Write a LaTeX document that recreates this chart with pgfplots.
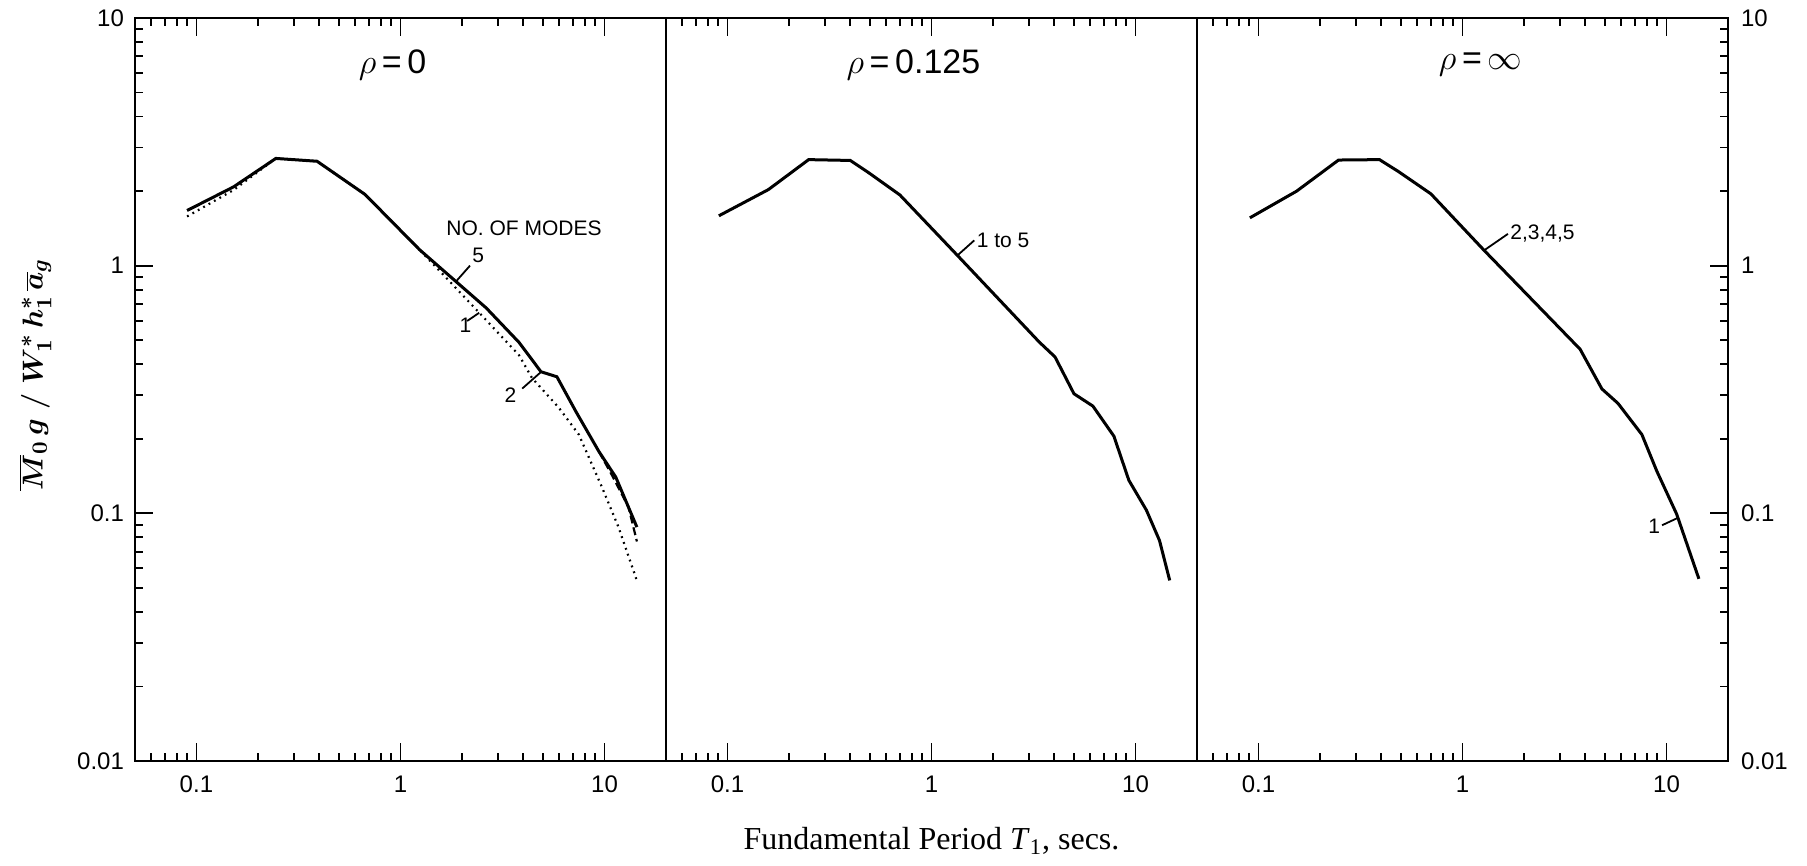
\documentclass[border=0pt]{standalone}
\usepackage{fontspec}
\setmainfont{Liberation Serif}
\setsansfont{Liberation Sans}
\usepackage{pgfplots}
\pgfplotsset{compat=1.18}
\tikzset{
  mycurve/.style={black, line width=1.5pt},
  mylab/.style={font=\sffamily\fontsize{10.5}{12}\selectfont, inner sep=0.8pt},
  myleader/.style={black, line width=0.9pt},
}

\begin{document}
\begin{tikzpicture}

% ---------------- rho = 0 ----------------
\begin{axis}[xmode=log, ymode=log,
  scale only axis, width=265.5pt, height=371.5pt,
  xmin=0.05, xmax=20, ymin=0.01, ymax=10,
  xtick={0.1,1,10}, xticklabels={0.1,1,10},
  minor xtick={0.05,0.06,0.07,0.08,0.09,0.2,0.3,0.4,0.5,0.6,0.7,0.8,0.9,2,3,4,5,6,7,8,9,20},
  ytick={0.01,0.1,1,10}, yticklabels={0.01,0.1,1,10},
  minor ytick={0.02,0.03,0.04,0.05,0.06,0.07,0.08,0.09,0.2,0.3,0.4,0.5,0.6,0.7,0.8,0.9,2,3,4,5,6,7,8,9},
  axis line style={line width=1.3pt},
  major tick length=9pt, minor tick length=4pt,
  tick style={black, line width=0.9pt},
  tick label style={font=\sffamily\fontsize{12}{14}\selectfont},
  xticklabel style={yshift=-4pt},
  clip=false,
  name=p1, ytick pos=left,
  yticklabel style={xshift=-2pt},
  ylabel={$\overline{M}_{0}\,g\;/\;W^{*}_{1}\,h^{*}_{1}\,\overline{a}_{g}$},
  ylabel style={at={(rel axis cs:-0.188,0.52)}, anchor=center, font=\boldmath\fontsize{15}{18}\selectfont}]
% 5 modes (solid)
\addplot[mycurve, mark=none] coordinates {
(0.09,1.67) (0.152,2.08) (0.245,2.71) (0.39,2.64) (0.67,1.94) (1.24,1.16)
(2.63,0.675) (3.81,0.49) (4.88,0.373) (5.84,0.356) (7.23,0.258)
(9.37,0.178) (11.35,0.140) (14.4,0.088)};
% 2 modes (dashed)
\addplot[black, line width=1.1pt, dash pattern=on 4pt off 2pt, mark=none] coordinates {
(9.37,0.178) (10.8,0.144) (13.1,0.106) (14.4,0.077)};
% 1 mode (dotted)
\addplot[black, line width=1.1pt, dash pattern=on 0.9pt off 2.2pt, mark=none] coordinates {
(0.09,1.58) (0.152,2.02) (0.245,2.71) (0.39,2.64) (0.67,1.94) (1.24,1.16)
(2.43,0.646) (3.81,0.435) (4.41,0.352) (5.97,0.267) (7.48,0.208)
(9.69,0.128) (11.7,0.088) (14.4,0.0535)};
\node[font=\sffamily\fontsize{17}{20}\selectfont] at (rel axis cs:0.485,0.937) {$\rho$\,=\,0};
\node[mylab] at (axis cs:4.03,1.42) {NO. OF MODES};
\draw[myleader] (axis cs:1.87,0.863) -- (axis cs:2.19,1.0) node[mylab, anchor=south west] {5};
\draw[myleader] (axis cs:2.12,0.598) -- (axis cs:2.43,0.645);
\node[mylab] at (axis cs:2.08,0.575) {1};
\draw[myleader] (axis cs:3.95,0.319) -- (axis cs:4.86,0.371);
\node[mylab] at (axis cs:3.46,0.301) {2};
\end{axis}

% ---------------- rho = 0.125 ----------------
\begin{axis}[xmode=log, ymode=log,
  scale only axis, width=265.5pt, height=371.5pt,
  xmin=0.05, xmax=20, ymin=0.01, ymax=10,
  xtick={0.1,1,10}, xticklabels={0.1,1,10},
  minor xtick={0.05,0.06,0.07,0.08,0.09,0.2,0.3,0.4,0.5,0.6,0.7,0.8,0.9,2,3,4,5,6,7,8,9,20},
  axis line style={line width=1.3pt},
  major tick length=9pt, minor tick length=4pt,
  tick style={black, line width=0.9pt},
  tick label style={font=\sffamily\fontsize{12}{14}\selectfont},
  xticklabel style={yshift=-4pt},
  clip=false,
  name=p2, at={(p1.south east)}, anchor=south west,
  ymajorticks=false, yminorticks=false,
  xlabel={Fundamental Period \textit{T}\textsubscript{1}, secs.},
  xlabel style={at={(rel axis cs:0.5,0)}, anchor=center, yshift=-40pt, font=\fontsize{16}{19}\selectfont}]
\addplot[mycurve, mark=none] coordinates {
(0.0908,1.59) (0.159,2.03) (0.25,2.68) (0.40,2.66) (0.497,2.36) (0.70,1.93)
(1.34,1.10) (3.37,0.492) (4.03,0.428) (4.99,0.304) (6.18,0.271) (7.83,0.205)
(9.27,0.136) (11.3,0.103) (13.1,0.0777) (14.7,0.0536)};
\node[font=\sffamily\fontsize{17}{20}\selectfont] at (rel axis cs:0.466,0.937) {$\rho$\,=\,0.125};
\draw[myleader] (axis cs:1.34,1.10) -- (axis cs:1.62,1.265) node[mylab, anchor=west] {1 to 5};
\end{axis}

% ---------------- rho = infinity ----------------
\begin{axis}[xmode=log, ymode=log,
  scale only axis, width=265.5pt, height=371.5pt,
  xmin=0.05, xmax=20, ymin=0.01, ymax=10,
  xtick={0.1,1,10}, xticklabels={0.1,1,10},
  minor xtick={0.05,0.06,0.07,0.08,0.09,0.2,0.3,0.4,0.5,0.6,0.7,0.8,0.9,2,3,4,5,6,7,8,9,20},
  ytick={0.01,0.1,1,10}, yticklabels={0.01,0.1,1,10},
  minor ytick={0.02,0.03,0.04,0.05,0.06,0.07,0.08,0.09,0.2,0.3,0.4,0.5,0.6,0.7,0.8,0.9,2,3,4,5,6,7,8,9},
  axis line style={line width=1.3pt},
  major tick length=9pt, minor tick length=4pt,
  tick style={black, line width=0.9pt},
  tick label style={font=\sffamily\fontsize{12}{14}\selectfont},
  xticklabel style={yshift=-4pt},
  clip=false,
  name=p3, at={(p2.south east)}, anchor=south west,
  ytick pos=right, yticklabel pos=right, yticklabel style={xshift=3pt}]
\addplot[mycurve, mark=none] coordinates {
(0.0908,1.56) (0.154,2.00) (0.247,2.67) (0.392,2.68) (0.485,2.40) (0.70,1.95)
(1.28,1.15) (3.77,0.46) (4.82,0.318) (5.78,0.278) (7.57,0.208) (8.96,0.148)
(11.2,0.0994) (14.4,0.0544)};
\node[font=\sffamily\fontsize{17}{20}\selectfont] at (rel axis cs:0.534,0.937) {$\rho$\,=\,$\infty$};
\draw[myleader] (axis cs:1.28,1.155) -- (axis cs:1.67,1.344) node[mylab, anchor=west] {2,3,4,5};
\draw[myleader] (axis cs:9.5,0.0895) -- (axis cs:11.4,0.096);
\node[mylab, anchor=east] at (axis cs:9.5,0.0885) {1};
\end{axis}

\pgfresetboundingbox
\path[use as bounding box] (p1.south west) ++(-67.5pt,-52.5pt) rectangle ++(903.5pt,433pt);
\end{tikzpicture}
\end{document}
